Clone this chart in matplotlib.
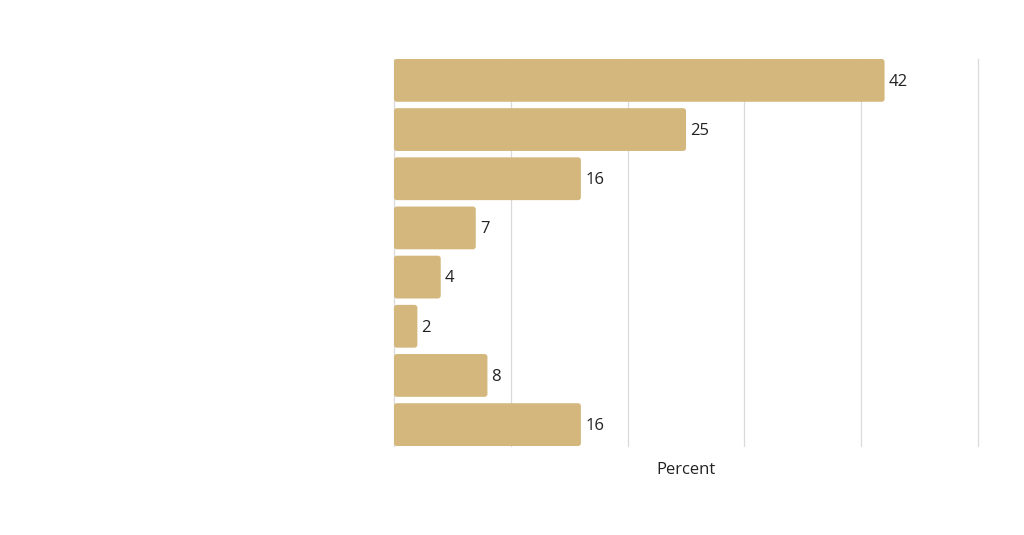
import matplotlib
matplotlib.use('Agg')
import matplotlib.pyplot as plt
from matplotlib.patches import FancyBboxPatch

categories = ['A', 'B', 'C', 'D', 'E', 'F', 'G', 'H']
values = [42, 25, 16, 7, 4, 2, 8, 16]

BAR_COLOR = '#D4B77C'
GRID_COLOR = '#DADADA'

plt.rcParams['font.family'] = ['Open Sans', 'DejaVu Sans']

fig = plt.figure(figsize=(10.24, 5.35), dpi=100)
ax = fig.add_axes([394 / 1024, 1 - 446 / 535, (978 - 394) / 1024, (446 - 59) / 535])

h = 0.87
y = list(range(len(categories)))
bars = ax.barh(y, values, height=h, color=BAR_COLOR, zorder=2)

# swap plain rectangles for slightly rounded ones
for bar in bars:
    x0, y0 = bar.get_x(), bar.get_y()
    w, bh = bar.get_width(), bar.get_height()
    bar.set_visible(False)
    patch = FancyBboxPatch((x0, y0), w, bh,
                           boxstyle='round,pad=0,rounding_size=0.25',
                           mutation_aspect=0.22,
                           facecolor=BAR_COLOR, edgecolor='none', zorder=2)
    ax.add_patch(patch)

for yi, v in zip(y, values):
    ax.annotate(str(v), (v, yi), xytext=(3, -1), textcoords='offset points',
                ha='left', va='center', fontsize=12, color='#222222')

ax.set_xlim(0, 50)
ax.set_ylim(len(categories) - 1 + h / 2, -h / 2)
ax.set_xticks([0, 10, 20, 30, 40, 50])
ax.set_xticklabels([])
ax.set_yticks([])
ax.tick_params(length=0)
ax.grid(axis='x', color=GRID_COLOR, linewidth=0.9, zorder=0)
for gl in ax.get_xgridlines():
    gl.set_clip_on(False)
for s in ax.spines.values():
    s.set_visible(False)

ax.set_xlabel('Percent', fontsize=12, color='#222222', labelpad=8)

fig.savefig('out.png', dpi=100)
